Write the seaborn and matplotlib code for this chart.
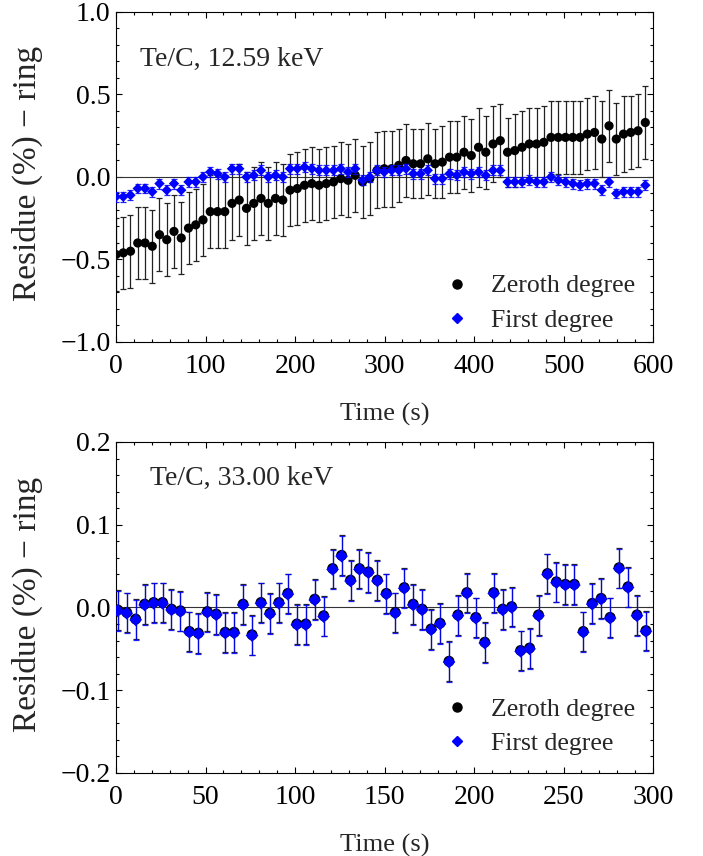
import numpy as np
import pandas as pd
import matplotlib
matplotlib.use("Agg")
import matplotlib.pyplot as plt
import seaborn as sns
from matplotlib.lines import Line2D
from matplotlib.ticker import MultipleLocator, FuncFormatter

# ---------------- data: top panel (Te/C, 12.59 keV) ----------------
time_top = [0, 8.1, 16.2, 24.3, 32.4, 40.5, 48.6, 56.7, 64.8, 72.9,
            81, 89.1, 97.2, 105.3, 113.4, 121.5, 129.6, 137.7, 145.8, 153.9,
            162, 170.1, 178.2, 186.3, 194.4, 202.5, 210.6, 218.7, 226.8, 234.9,
            243, 251.1, 259.2, 267.3, 275.4, 283.5, 291.6, 299.7, 307.8, 315.9,
            324, 332.1, 340.2, 348.3, 356.4, 364.5, 372.6, 380.7, 388.8, 396.9,
            405, 413.1, 421.2, 429.3, 437.4, 445.5, 453.6, 461.7, 469.8, 477.9,
            486, 494.1, 502.2, 510.3, 518.4, 526.5, 534.6, 542.7, 550.8, 558.9,
            567, 575.1, 583.2, 591.3]
zeroth_top = [-0.47, -0.46, -0.45, -0.40, -0.40, -0.42, -0.35, -0.38, -0.33, -0.37,
              -0.31, -0.29, -0.26, -0.21, -0.21, -0.21, -0.16, -0.14, -0.19, -0.16,
              -0.13, -0.16, -0.13, -0.14, -0.08, -0.07, -0.05, -0.04, -0.05, -0.04,
              -0.03, -0.01, -0.02, 0.01, -0.03, -0.01, 0.04, 0.05, 0.05, 0.07,
              0.10, 0.08, 0.08, 0.11, 0.08, 0.09, 0.12, 0.12, 0.15, 0.13,
              0.18, 0.15, 0.20, 0.22, 0.15, 0.16, 0.18, 0.20, 0.20, 0.21,
              0.24, 0.24, 0.24, 0.24, 0.24, 0.26, 0.27, 0.23, 0.31, 0.23,
              0.26, 0.27, 0.28, 0.33]
zeroth_top_err = [0.22, 0.22, 0.22, 0.22, 0.22, 0.22, 0.22, 0.22, 0.22, 0.22,
                  0.22, 0.22, 0.22, 0.22, 0.22, 0.22, 0.22, 0.22, 0.22, 0.22,
                  0.22, 0.22, 0.22, 0.22, 0.22, 0.22, 0.22, 0.22, 0.22, 0.22,
                  0.22, 0.22, 0.22, 0.22, 0.22, 0.22, 0.23, 0.23, 0.23, 0.22,
                  0.22, 0.21, 0.21, 0.22, 0.21, 0.22, 0.22, 0.22, 0.22, 0.22,
                  0.24, 0.22, 0.23, 0.22, 0.21, 0.22, 0.22, 0.22, 0.22, 0.22,
                  0.22, 0.22, 0.22, 0.22, 0.22, 0.22, 0.22, 0.23, 0.22, 0.22,
                  0.23, 0.22, 0.22, 0.22]
first_top = [-0.12, -0.12, -0.11, -0.07, -0.07, -0.09, -0.04, -0.08, -0.04, -0.08,
             -0.03, -0.03, 0.00, 0.03, 0.02, 0.00, 0.05, 0.05, 0.00, 0.01,
             0.04, 0.00, 0.01, 0.00, 0.05, 0.05, 0.06, 0.05, 0.04, 0.04,
             0.04, 0.05, 0.03, 0.05, -0.02, 0.00, 0.04, 0.03, 0.04, 0.04,
             0.05, 0.02, 0.02, 0.04, -0.01, -0.01, 0.02, 0.01, 0.03, 0.02,
             0.03, 0.01, 0.04, 0.04, -0.03, -0.03, -0.03, -0.02, -0.03, -0.03,
             0.00, -0.02, -0.03, -0.04, -0.05, -0.04, -0.04, -0.08, -0.03, -0.10,
             -0.09, -0.09, -0.09, -0.05]
first_top_err = [0.03] * 74

# ---------------- data: bottom panel (Te/C, 33.00 keV) ----------------
time_bot = [1, 6, 11, 16, 21, 26, 31, 36, 41, 46,
            51, 56, 61, 66, 71, 76, 81, 86, 91, 96,
            101, 106, 111, 116, 121, 126, 131, 136, 141, 146,
            151, 156, 161, 166, 171, 176, 181, 186, 191, 196,
            201, 206, 211, 216, 221, 226, 231, 236, 241, 246,
            251, 256, 261, 266, 271, 276, 281, 286, 291, 296]
zeroth_bot = [-0.003, -0.006, -0.014, 0.004, 0.006, 0.006, -0.002, -0.004, -0.029, -0.031,
              -0.005, -0.008, -0.030, -0.030, 0.004, -0.033, 0.006, -0.007, 0.006, 0.017,
              -0.020, -0.020, 0.010, -0.010, 0.047, 0.063, 0.033, 0.047, 0.043, 0.033,
              0.017, -0.006, 0.024, 0.004, -0.002, -0.026, -0.019, -0.065, -0.009, 0.018,
              -0.012, -0.042, 0.018, -0.002, 0.001, -0.052, -0.049, -0.009, 0.041, 0.031,
              0.028, 0.028, -0.029, 0.005, 0.011, -0.012, 0.048, 0.025, -0.009, -0.028]
zeroth_bot_err = [0.024] * 60
first_bot = [-0.004, -0.007, -0.015, 0.003, 0.005, 0.005, -0.003, -0.005, -0.030, -0.032,
             -0.006, -0.009, -0.031, -0.031, 0.003, -0.034, 0.005, -0.008, 0.005, 0.016,
             -0.021, -0.021, 0.009, -0.011, 0.046, 0.062, 0.032, 0.046, 0.042, 0.032,
             0.016, -0.007, 0.023, 0.003, -0.003, -0.027, -0.020, -0.066, -0.010, 0.017,
             -0.013, -0.043, 0.017, -0.003, 0.000, -0.053, -0.050, -0.010, 0.040, 0.030,
             0.027, 0.027, -0.030, 0.004, 0.010, -0.013, 0.047, 0.024, -0.010, -0.029]
first_bot_err = [0.024] * 60

labels = ["Zeroth degree", "First degree"]
titles = ["Te/C, 12.59 keV", "Te/C, 33.00 keV"]

# ---------------- style ----------------
sns.set_theme(style="ticks")
plt.rcParams['font.family'] = ['Liberation Serif', 'DejaVu Serif']
plt.rcParams['axes.unicode_minus'] = True
plt.rcParams['axes.linewidth'] = 0.8
plt.rcParams['axes.edgecolor'] = 'black'

BLUE = '#0000ff'

fig = plt.figure(figsize=(7.03, 8.56), dpi=100)
ax1 = fig.add_axes([0.165, 0.6005, 0.764, 0.3855])
ax2 = fig.add_axes([0.165, 0.097, 0.764, 0.3867])


def draw(ax, t, z, ze, f, fe, s_circ, s_diam, cap):
    ax.axhline(0, color='#333333', lw=0.8, zorder=1)
    ax.errorbar(t, z, yerr=ze, fmt='none', ecolor='#222222', elinewidth=0.9,
                capsize=cap, capthick=0.9, zorder=2)
    dz = pd.DataFrame({'t': t, 'v': z})
    sns.scatterplot(data=dz, x='t', y='v', ax=ax, color='black', marker='o',
                    s=s_circ, edgecolor='none', linewidth=0, zorder=3)
    ax.errorbar(t, f, yerr=fe, fmt='none', ecolor=BLUE, elinewidth=0.9,
                capsize=cap, capthick=0.9, alpha=0.85, zorder=4)
    df = pd.DataFrame({'t': t, 'v': f})
    sns.scatterplot(data=df, x='t', y='v', ax=ax, color=BLUE, marker='D',
                    s=s_diam, edgecolor='none', linewidth=0, zorder=5)


draw(ax1, time_top, zeroth_top, zeroth_top_err, first_top, first_top_err, 44, 28, 2.5)
draw(ax2, time_bot, zeroth_bot, zeroth_bot_err, first_bot, first_bot_err, 62, 42, 2.5)


def yfmt(v, pos):
    s = "%.1f" % abs(v)
    return ("\u2212" + s) if v < -1e-9 else s


for ax, xmax, xmaj, xmin_, ylim, ymaj, ymin_ in [
        (ax1, 600, 100, 20, 1.0, 0.5, 0.1),
        (ax2, 300, 50, 10, 0.2, 0.1, 0.02)]:
    ax.set_xlim(0, xmax)
    ax.set_ylim(-ylim, ylim)
    ax.xaxis.set_major_locator(MultipleLocator(xmaj))
    ax.xaxis.set_minor_locator(MultipleLocator(xmin_))
    ax.yaxis.set_major_locator(MultipleLocator(ymaj))
    ax.yaxis.set_minor_locator(MultipleLocator(ymin_))
    ax.yaxis.set_major_formatter(FuncFormatter(yfmt))
    ax.tick_params(which='both', direction='in', top=True, right=True,
                   colors='black', width=0.8)
    ax.tick_params(which='major', length=4)
    ax.tick_params(which='minor', length=2)
    ax.tick_params(axis='x', which='major', labelsize=20, pad=9)
    ax.tick_params(axis='y', which='major', labelsize=20, pad=4)
    for sp in ax.spines.values():
        sp.set_visible(True)
        sp.set_color('black')
        sp.set_linewidth(0.8)
    ax.set_xlabel("Time (s)", fontsize=19, labelpad=17)
    ax.set_ylabel("Residue (%) \u2212 ring", fontsize=24)
    ax.grid(False)

ax1.yaxis.set_label_coords(-0.135, 0.51)
ax2.yaxis.set_label_coords(-0.135, 0.51)

ax1.text(0.045, 0.855, titles[0], transform=ax1.transAxes, fontsize=20,
         ha='left', va='center')
ax2.text(0.063, 0.89, titles[1], transform=ax2.transAxes, fontsize=20,
         ha='left', va='center')

handles = [Line2D([], [], ls='none', marker='o', color='black', markersize=6.5),
           Line2D([], [], ls='none', marker='D', color=BLUE, markersize=5.5)]
ax1.legend(handles, labels, loc='lower right', bbox_to_anchor=(1.009, -0.04),
           frameon=False, fontsize=18.5, handletextpad=0.8, labelspacing=0.45,
           handlelength=1.0)
ax2.legend(handles, labels, loc='lower right', bbox_to_anchor=(1.009, -0.016),
           frameon=False, fontsize=18.5, handletextpad=0.8, labelspacing=0.45,
           handlelength=1.0)

fig.savefig("out.png", dpi=100)
